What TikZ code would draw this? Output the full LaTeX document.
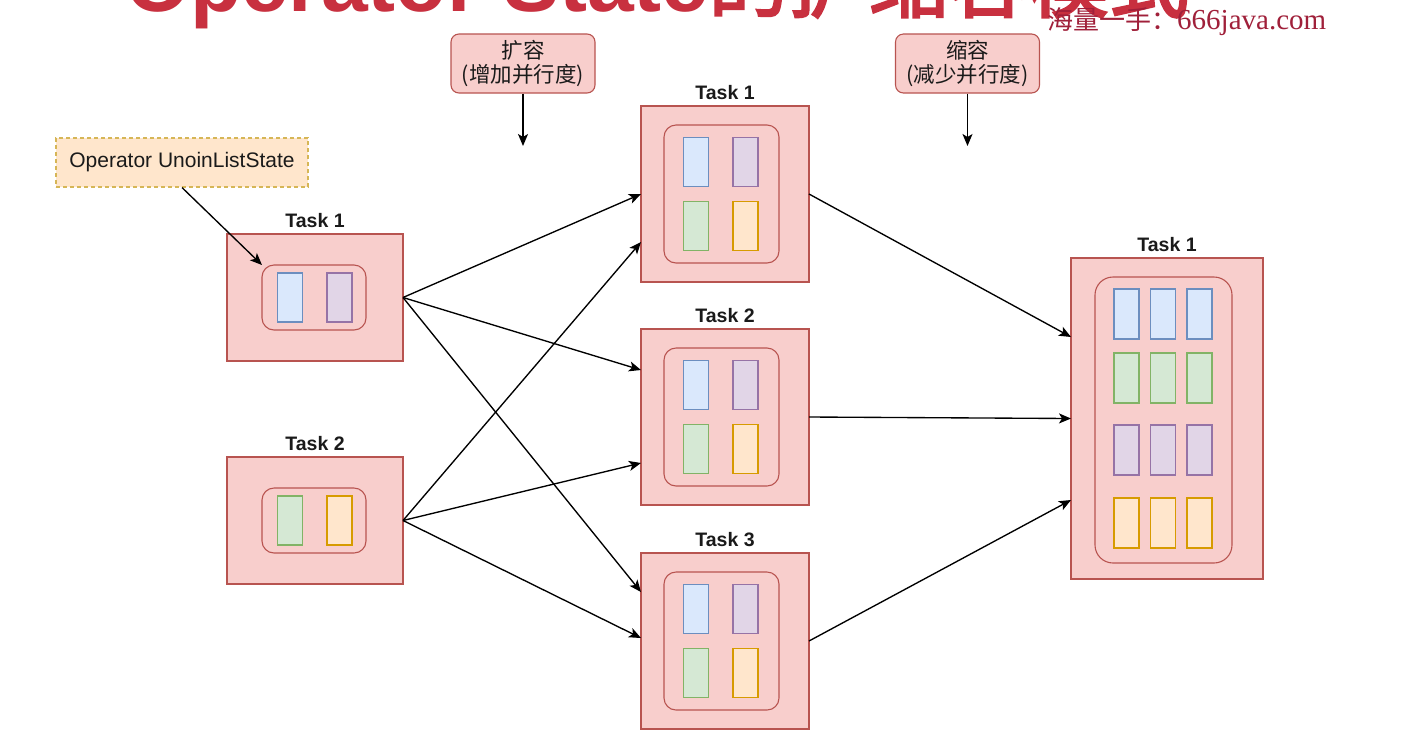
\documentclass[tikz,border=0pt]{standalone}
\usepackage{fontspec}
\setmainfont{Liberation Sans}
\newfontfamily\cjk{Noto Sans CJK SC}
\newfontfamily\cjkb{Noto Sans CJK SC}[AutoFakeBold=3]
\newfontfamily\wmserif{Liberation Serif}
\usetikzlibrary{arrows.meta,calc}
\definecolor{tfill}{HTML}{F8CECC}
\definecolor{tred}{HTML}{B85450}
\definecolor{bfill}{HTML}{DAE8FC}
\definecolor{bstroke}{HTML}{6C8EBF}
\definecolor{pfill}{HTML}{E1D5E7}
\definecolor{pstroke}{HTML}{9673A6}
\definecolor{gfill}{HTML}{D5E8D4}
\definecolor{gstroke}{HTML}{82B366}
\definecolor{ofill}{HTML}{FFE6CC}
\definecolor{ostroke}{HTML}{D79B00}
\definecolor{opstroke}{HTML}{D6B656}
\definecolor{titlered}{HTML}{C8303F}
\definecolor{wmred}{HTML}{A0203A}
\definecolor{txt}{HTML}{1A1A1A}
\tikzset{
  taskbox/.style={draw=tred, fill=tfill, line width=1.1pt, inner sep=0pt, outer sep=0pt},
  innerbox/.style={draw=tred, fill=tfill, rounded corners=12pt, line width=1.1pt, inner sep=0pt, outer sep=0pt},
  cell/.style={minimum width=25pt, minimum height=49pt, line width=1.1pt, inner sep=0pt, outer sep=0pt},
  cellb/.style={cell, draw=bstroke, fill=bfill},
  cellp/.style={cell, draw=pstroke, fill=pfill},
  cellg/.style={cell, draw=gstroke, fill=gfill},
  cello/.style={cell, draw=ostroke, fill=ofill},
  tasklbl/.style={font=\bfseries\fontsize{19.5}{20}\selectfont, text=txt, inner sep=0pt, anchor=base},
  lblbox/.style={draw=tred, fill=tfill, rounded corners=8pt, line width=1.1pt, minimum width=144pt, minimum height=59pt, inner sep=0pt, align=center, text=txt, font=\cjk\fontsize{21.5}{24}\selectfont},
  opbox/.style={draw=opstroke, fill=ofill, dash pattern=on 4pt off 3pt, line width=1.1pt, minimum width=252pt, minimum height=49pt, inner sep=0pt, text=txt, font=\fontsize{21}{22}\selectfont},
  conn/.style={-{Stealth[length=12pt,width=10pt,inset=3pt]}, line width=1.35pt, black}
}
\begin{document}
\begin{tikzpicture}[x=1pt,y=-1pt]
\useasboundingbox (0,0) rectangle (1407,732);
\fill[white] (0,0) rectangle (1407,732);

% cut-off title and watermark
\node[anchor=base west, text=titlered, inner sep=0pt] (title) at (125,11)
  {\fontsize{84}{84}\selectfont\bfseries Operator State\cjkb\fontsize{80}{80}\selectfont 的扩缩容模式};
\node[anchor=west, text=wmred, inner sep=0pt] (wm) at (1047,22)
  {\cjk\fontsize{26}{26}\selectfont 海量一手：\wmserif\fontsize{29}{29}\selectfont 666java.com};

% scale labels
\node[lblbox] (kr) at (523,63.5) {扩容\\(增加并行度)};
\coordinate (krend) at (523,146);
\draw[conn] (kr) -- (krend);
\node[lblbox] (sr) at (967.5,63.5) {缩容\\(减少并行度)};
\coordinate (srend) at (967.5,146);
\draw[conn] (sr) -- (srend);

% left tasks
\node[taskbox, minimum width=176pt, minimum height=127pt] (lt1) at (315,297.5) {};
\node[tasklbl] (lt1l) at ([yshift=7pt]lt1.north) {Task 1};
\node[innerbox, minimum width=104pt, minimum height=65pt] (lt1i) at (314,297.5) {};
\node[cellb] (lt1a) at (290,297.5) {};
\node[cellp] (lt1b) at (339.5,297.5) {};

\node[taskbox, minimum width=176pt, minimum height=127pt] (lt2) at (315,520.5) {};
\node[tasklbl] (lt2l) at ([yshift=7pt]lt2.north) {Task 2};
\node[innerbox, minimum width=104pt, minimum height=65pt] (lt2i) at (314,520.5) {};
\node[cellg] (lt2a) at (290,520.5) {};
\node[cello] (lt2b) at (339.5,520.5) {};

% operator note
\node[opbox] (op) at (182,162.5) {Operator UnoinListState};
\draw[conn] (op.south) -- (lt1i.north west);

% middle tasks
\foreach \n/\cy/\t in {mt1/194/Task 1, mt2/417/Task 2, mt3/641/Task 3}{
  \node[taskbox, minimum width=168pt, minimum height=176pt] (\n) at (725,\cy) {};
  \node[tasklbl] (\n l) at ([yshift=7pt]\n.north) {\t};
  \node[innerbox, minimum width=115pt, minimum height=138pt] (\n i) at (721.5,\cy) {};
  \node[cellb] (\n a) at (696,\cy-32) {};
  \node[cellp] (\n b) at (745.5,\cy-32) {};
  \node[cellg] (\n c) at (696,\cy+32) {};
  \node[cello] (\n d) at (745.5,\cy+32) {};
}

% right task
\node[taskbox, minimum width=192pt, minimum height=321pt] (rt) at (1167,418.5) {};
\node[tasklbl] (rtl) at ([yshift=7pt]rt.north) {Task 1};
\node[innerbox, minimum width=137pt, minimum height=286pt, rounded corners=18pt] (rti) at (1163.5,420) {};
\foreach \cx [count=\i] in {1126.5,1163,1199.5}{
  \node[cellb, minimum height=50pt] (rb\i) at (\cx,314) {};
  \node[cellg, minimum height=50pt] (rg\i) at (\cx,378) {};
  \node[cellp, minimum height=50pt] (rp\i) at (\cx,450) {};
  \node[cello, minimum height=50pt] (ro\i) at (\cx,523) {};
}

% connectors: scale out
\draw[conn] (lt1.east) -- (mt1.west);
\draw[conn] (lt1.east) -- ($(mt2.west)+(0,-47)$);
\draw[conn] (lt1.east) -- ($(mt3.west)+(0,-49)$);
\draw[conn] (lt2.east) -- ($(mt1.west)+(0,48)$);
\draw[conn] (lt2.east) -- ($(mt2.west)+(0,46)$);
\draw[conn] (lt2.east) -- ($(mt3.west)+(0,-3)$);

% connectors: scale in
\draw[conn] (mt1.east) -- ($(rt.west)+(0,-81.5)$);
\draw[conn] (mt2.east) -- (rt.west);
\draw[conn] (mt3.east) -- ($(rt.west)+(0,81.5)$);
\end{tikzpicture}
\end{document}
